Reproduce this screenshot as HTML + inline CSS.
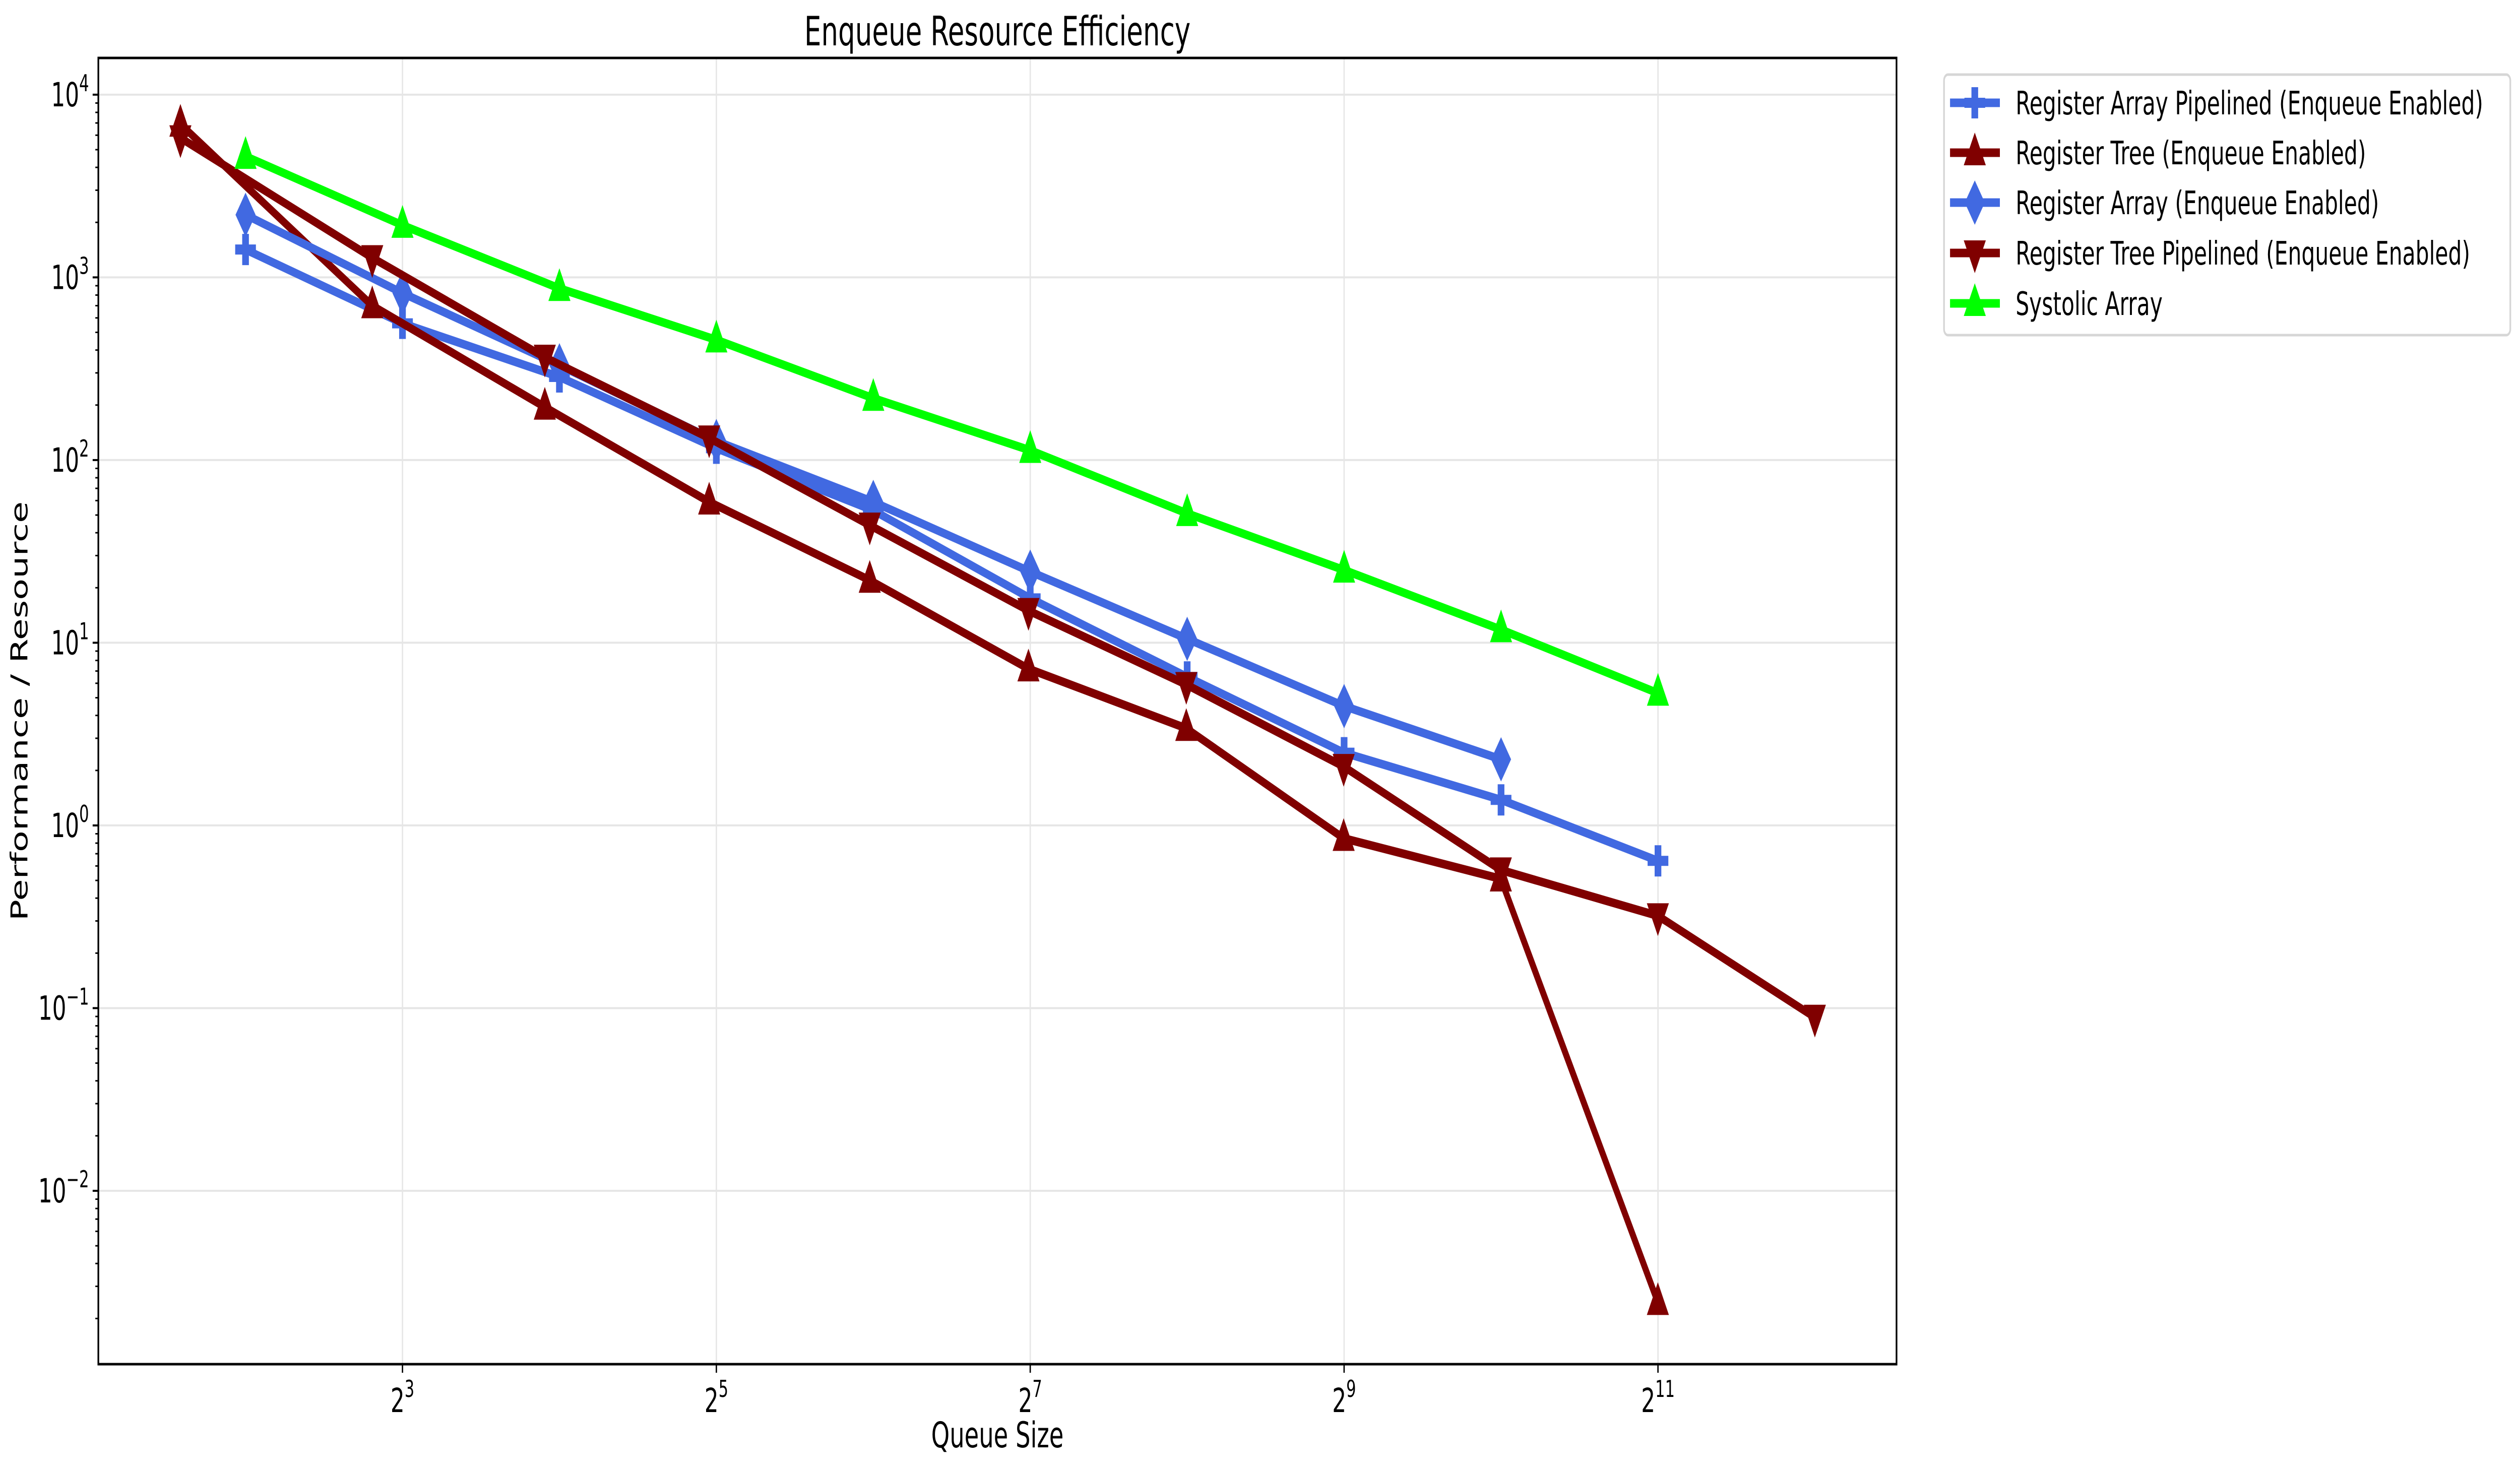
<!DOCTYPE html>
<html><head><meta charset="utf-8">
<style>
html,body{margin:0;padding:0;background:#fff;overflow:hidden;width:100%;height:100%;}
svg{display:block;width:100vw;height:100vh;font-family:"DejaVu Sans","Liberation Sans",sans-serif;}
</style></head>
<body>
<svg id="chart" viewBox="0 0 7534 2915" preserveAspectRatio="none" xmlns="http://www.w3.org/2000/svg">
<rect x="0" y="0" width="7534" height="2915" fill="#fff"/>
<text x="2982" y="90" font-size="80" text-anchor="middle">Enqueue Resource Efficiency</text>
<text x="2982" y="2872" font-size="70" text-anchor="middle">Queue Size</text>
<text x="0" y="0" font-size="70" text-anchor="middle" transform="translate(82,1411) rotate(-90)">Performance / Resource</text>
<g id="grid"></g>
<g id="series"></g>
<g id="axes"></g>
<g id="legend"></g>
</svg>
<script>
const xTree = [3,7,15,31,63,127,255,511,1023,2047];
const xTreePipe = [3,7,15,31,63,127,255,511,1023,2047,4095];
const xArr = [4,8,16,32,64,128,256,512,1024,2048];
const xArrD = [4,8,16,32,64,128,256,512,1024];
const yArrPipe = [1420,560,285,116,53,17.5,6.5,2.5,1.38,0.64];
const yTree = [6900,700,195,59,22,7.2,3.4,0.85,0.51,0.00245];
const yArrD = [2200,820,330,127,59,24.5,10.5,4.5,2.3];
const yTreePipe = [5800,1280,365,132,44,15,5.9,2.1,0.57,0.32,0.089];
const ySys = [4600,1930,870,455,218,113,51,25,11.8,5.3];
const xTickExps = [3,5,7,9,11];
const yTickExps = [-2,-1,0,1,2,3,4];

const NS="http://www.w3.org/2000/svg";
const L=294,R=5670,T=115,B=2707;
const xmin=1.062,xmax=12.52,ymin=-2.949,ymax=4.201;
function X(v){return L+(Math.log2(v)-xmin)/(xmax-xmin)*(R-L);}
function Y(v){return B-(Math.log10(v)-ymin)/(ymax-ymin)*(B-T);}
function mk(tag,attrs,parent){const e=document.createElementNS(NS,tag);for(const k in attrs)e.setAttribute(k,attrs[k]);parent.appendChild(e);return e;}

const grid=document.getElementById('grid'),axes=document.getElementById('axes'),ser=document.getElementById('series'),leg=document.getElementById('legend');

xTickExps.forEach(e=>{
  const x=X(Math.pow(2,e));
  const g=mk('line',{x1:x,x2:x,y1:T,y2:B,stroke:'#e6e6e6','stroke-width':4},grid);
  
  
  mk('line',{x1:x,x2:x,y1:B,y2:B+17,stroke:'#000','stroke-width':4},axes);
  const t=mk('text',{x:x,y:B+95,'font-size':66,'text-anchor':'middle'},axes);
  
  
  t.textContent='2';
  const s=mk('tspan',{'font-size':46,dy:-30},t);s.textContent=String(e);
});
yTickExps.forEach(e=>{
  const y=Y(Math.pow(10,e));
  const g=mk('line',{x1:L,x2:R,y1:y,y2:y,stroke:'#e6e6e6','stroke-width':4},grid);
  
  
  mk('line',{x1:L-17,x2:L,y1:y,y2:y,stroke:'#000','stroke-width':4},axes);
  const t=mk('text',{x:L-28,y:y+23,'font-size':66,'text-anchor':'end'},axes);
  
  
  t.textContent='10';
  const s=mk('tspan',{'font-size':46,dy:-30},t);s.textContent=(e<0?'\u2212':'')+Math.abs(e);
});
for(let e=-3;e<=4;e++){for(let m=2;m<=9;m++){const v=m*Math.pow(10,e);const lv=Math.log10(v);if(lv<ymin||lv>ymax)continue;const y=Y(v);mk('line',{x1:L-9,x2:L,y1:y,y2:y,stroke:'#000','stroke-width':3},axes);}}
const frame=mk('rect',{x:L,y:T,width:R-L,height:B-T,fill:'none',stroke:'#000','stroke-width':5},axes);



function marker(type,cx,cy,color,parent){
  if(type==='plus'){
    return mk('path',{d:`M${cx-31},${cy-10}h21v-21h20v21h21v20h-21v21h-20v-21h-21z`,fill:color},parent);
  }else if(type==='up'){
    return mk('path',{d:`M${cx},${cy-40}L${cx+33},${cy+25}L${cx-33},${cy+25}z`,fill:color},parent);
  }else if(type==='down'){
    return mk('path',{d:`M${cx},${cy+40}L${cx+33},${cy-25}L${cx-33},${cy-25}z`,fill:color},parent);
  }else{
    return mk('path',{d:`M${cx},${cy-44}L${cx+30},${cy}L${cx},${cy+44}L${cx-30},${cy}z`,fill:color},parent);
  }
}
const seriesDefs=[
  {name:'Register Array Pipelined (Enqueue Enabled)',key:'register-array-pipelined',xs:xArr,ys:yArrPipe,c:'#4169e1',m:'plus'},
  {name:'Register Tree (Enqueue Enabled)',key:'register-tree',xs:xTree,ys:yTree,c:'#800000',m:'up'},
  {name:'Register Array (Enqueue Enabled)',key:'register-array',xs:xArrD,ys:yArrD,c:'#4169e1',m:'diamond'},
  {name:'Register Tree Pipelined (Enqueue Enabled)',key:'register-tree-pipelined',xs:xTreePipe,ys:yTreePipe,c:'#800000',m:'down'},
  {name:'Systolic Array',key:'systolic-array',xs:xArr,ys:ySys,c:'#00ff00',m:'up'}
];
seriesDefs.forEach(s=>{
  const g=mk('g',{},ser);
  
  
  const pts=s.xs.map((x,i)=>X(x).toFixed(1)+','+Y(s.ys[i]).toFixed(1)).join(' ');
  const pl=mk('polyline',{points:pts,fill:'none',stroke:s.c,'stroke-width':17,'stroke-linejoin':'round'},g);
  
  
  s.xs.forEach((x,i)=>{
    const p=marker(s.m,X(x),Y(s.ys[i]),s.c,g);
    
    
  });
});
const lb=mk('rect',{x:5812,y:148,width:1693,height:517,rx:12,fill:'#fff',stroke:'#d6d6d6','stroke-width':5},leg);


const ly=[204,303,402,502,602];
seriesDefs.forEach((s,i)=>{
  const g=mk('g',{},leg);
  
  
  const y=ly[i];
  mk('line',{x1:5830,x2:5979,y1:y,y2:y,stroke:s.c,'stroke-width':17},g);
  marker(s.m,5904,y,s.c,g);
  const t=mk('text',{x:6026,y:y+23,'font-size':64},g);
  t.textContent=s.name;
});
</script>
</body></html>
